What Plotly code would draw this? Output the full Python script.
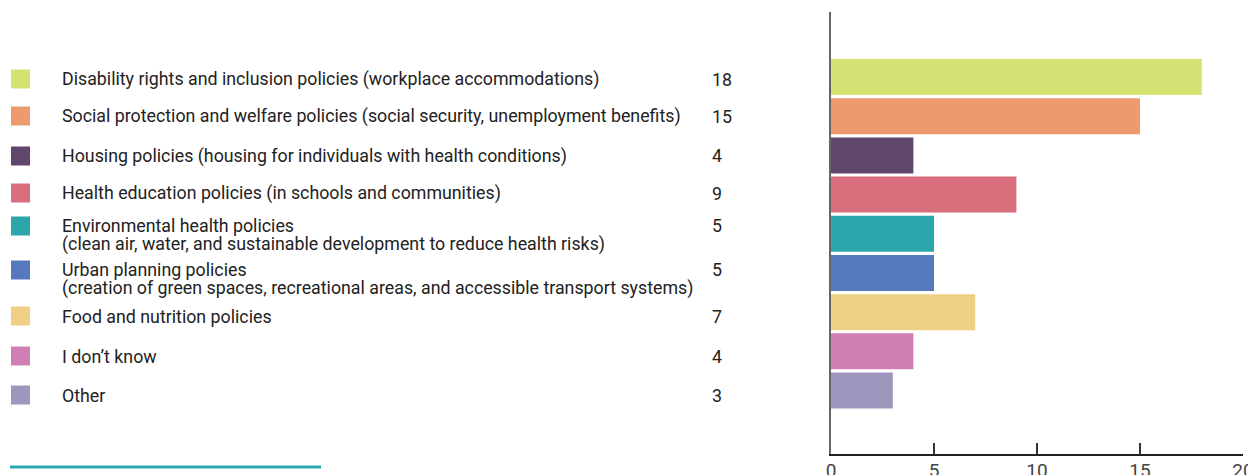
import plotly.graph_objects as go

categories = [
    "Disability rights and inclusion policies (workplace accommodations)",
    "Social protection and welfare policies (social security, unemployment benefits)",
    "Housing policies (housing for individuals with health conditions)",
    "Health education policies (in schools and communities)",
    "Environmental health policies<br>(clean air, water, and sustainable development to reduce health risks)",
    "Urban planning policies<br>(creation of green spaces, recreational areas, and accessible transport systems)",
    "Food and nutrition policies",
    "I don\u2019t know",
    "Other",
]
values = [18, 15, 4, 9, 5, 5, 7, 4, 3]
colors = ["#d4e173", "#ed9b6e", "#60466b", "#d96e7c", "#2ba7ab",
          "#5678bc", "#efcf85", "#cf7fb4", "#9f96bd"]
x_ticks = [0, 5, 10, 15, 20]

# page body has an 8px margin: work in screen pixels and shift
OFF = 8
W, H = 1248, 467
PLOT_TOP, PLOT_BOTTOM = 12 - OFF, 454 - OFF
PLOT_RIGHT = 1243 - OFF
FONT = "Roboto"
FS = 17.8
TEXT_COLOR = "#222222"

fig = go.Figure()
ids = list(range(len(categories)))
fig.add_trace(go.Bar(
    x=values, y=ids, orientation="h",
    marker=dict(color=colors, line=dict(width=0)),
    hoverinfo="skip", showlegend=False,
))

# row screen-pixel positions of the table on the left (layout only)
row_px = [79, 116, 156, 193, 226, 270, 316, 356, 395]

def py(p):
    return (PLOT_BOTTOM - (p - OFF)) / (PLOT_BOTTOM - PLOT_TOP)

def px(p):
    return (p - OFF) / PLOT_RIGHT

annotations = []
shapes = []
for label, val, col, r in zip(categories, values, colors, row_px):
    shapes.append(dict(type="rect", xref="paper", yref="paper",
                       x0=px(11), x1=px(30), y0=py(r + 9.5), y1=py(r - 9.5),
                       fillcolor=col, line=dict(width=0), layer="above"))
    lines = label.split("<br>")
    for k, ln in enumerate(lines):
        annotations.append(dict(xref="paper", yref="paper", x=px(60), y=py(r + 18 * k),
                                text=ln, showarrow=False, xanchor="left", yanchor="middle",
                                font=dict(family=FONT, size=FS, color=TEXT_COLOR)))
    annotations.append(dict(xref="paper", yref="paper", x=px(710), y=py(r),
                            text=str(val), showarrow=False, xanchor="left", yanchor="middle",
                            font=dict(family=FONT, size=FS, color=TEXT_COLOR)))

shapes.append(dict(type="line", xref="paper", yref="paper",
                   x0=px(10), x1=px(321), y0=py(467), y1=py(467),
                   line=dict(color="#2aa8ad", width=3)))

fig.update_layout(
    width=W, height=H,
    margin=dict(l=0, r=W - PLOT_RIGHT, t=PLOT_TOP, b=H - PLOT_BOTTOM, pad=0),
    plot_bgcolor="white", paper_bgcolor="white",
    bargap=0.08,
    annotations=annotations, shapes=shapes,
    xaxis=dict(domain=[(831 - OFF) / PLOT_RIGHT, 1], range=[0, 20], tickvals=x_ticks,
               showgrid=False, zeroline=False, showline=True, linecolor="#222222", linewidth=1.5,
               ticks="inside", ticklen=11, tickwidth=1.5, tickcolor="#333333",
               ticklabelstandoff=-2,
               tickfont=dict(family=FONT, size=19, color="#444444"), automargin=False),
    yaxis=dict(range=[9.62, -1.66], showticklabels=False, showgrid=False, zeroline=False,
               showline=True, linecolor="#666666", linewidth=1.5, ticks="", automargin=False),
    font=dict(family=FONT),
)

fig.write_html("out.html")
